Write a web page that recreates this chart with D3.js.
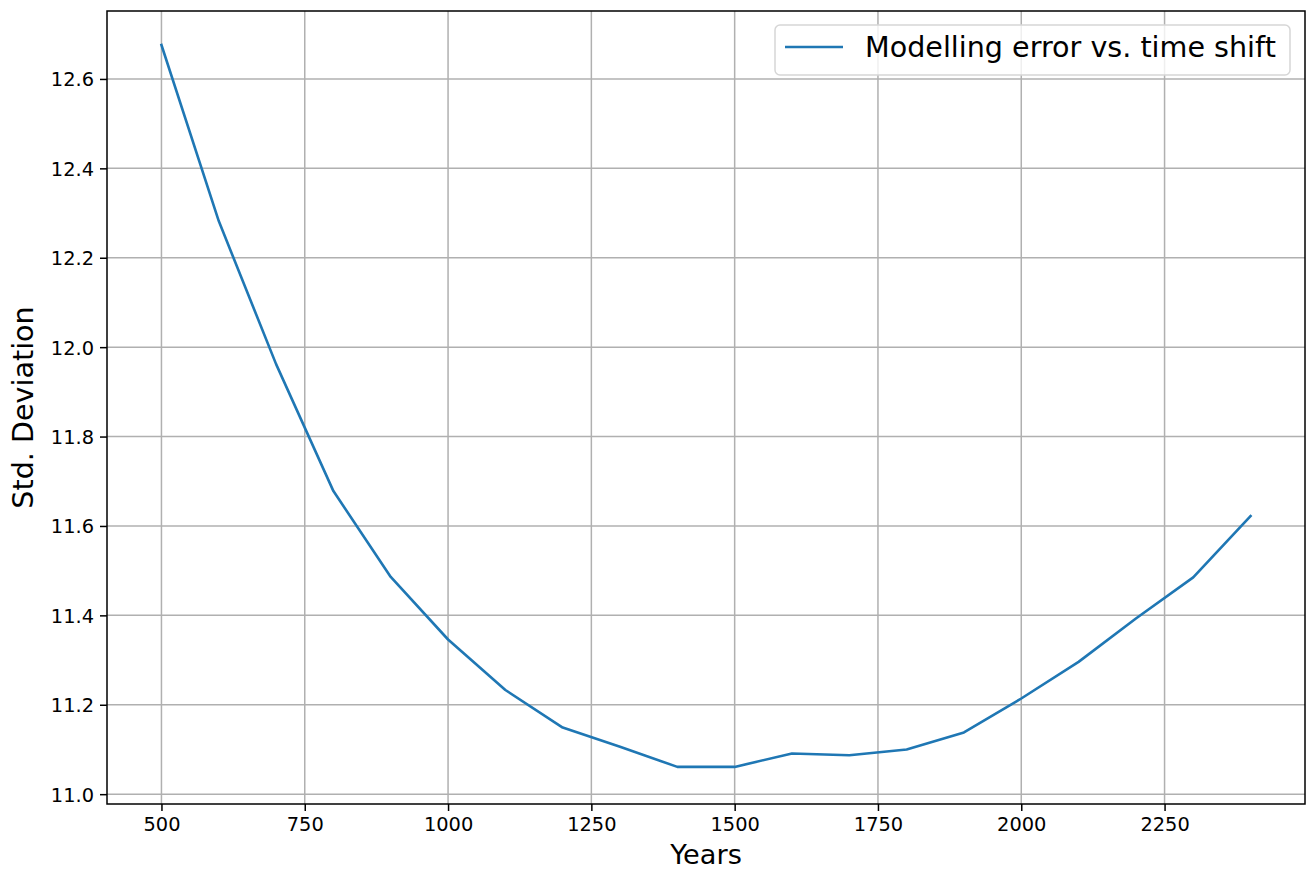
<!DOCTYPE html>
<html>
<head>
<meta charset="utf-8">
<script src="https://cdn.jsdelivr.net/npm/d3@7"></script>
<style>
  body { margin: 0; background: #fff; }
  text { font-family: "DejaVu Sans", sans-serif; fill: #000; }
</style>
</head>
<body>
<div class="visHolder"></div>
<script>
// values
const years = [500, 600, 700, 800, 900, 1000, 1100, 1200, 1300, 1400,
               1500, 1600, 1700, 1800, 1900, 2000, 2100, 2200, 2300, 2400];
const stdDev = [12.676, 12.282, 11.962, 11.678, 11.486, 11.346, 11.233, 11.149, 11.106, 11.061,
                11.061, 11.091, 11.087, 11.100, 11.138, 11.214, 11.296, 11.393, 11.485, 11.622];
const xTicks = [500, 750, 1000, 1250, 1500, 1750, 2000, 2250];
const yTicks = [11.0, 11.2, 11.4, 11.6, 11.8, 12.0, 12.2, 12.4, 12.6];
const seriesName = 'Modelling error vs. time shift';

const w = 1306, h = 870;
const plotLeft = 107, plotRight = 1305, plotTop = 11, plotBottom = 804;

const dataset = years.map((y, i) => ({year: y, value: stdDev[i]}));

const svg = d3.select('.visHolder')
  .append('svg')
  .attr('width', w)
  .attr('height', h);

// matplotlib style 5% margins around the data
const xScale = d3.scaleLinear()
  .domain([405, 2495])
  .range([plotLeft, plotRight]);
const yScale = d3.scaleLinear()
  .domain([10.978, 12.752])
  .range([plotBottom, plotTop]);

// grid
svg.append('g')
  .selectAll('line')
  .data(xTicks)
  .enter()
  .append('line')
  .attr('x1', d => xScale(d)).attr('x2', d => xScale(d))
  .attr('y1', plotTop).attr('y2', plotBottom)
  .attr('stroke', '#b0b0b0')
  .attr('stroke-width', 1.5);

svg.append('g')
  .selectAll('line')
  .data(yTicks)
  .enter()
  .append('line')
  .attr('x1', plotLeft).attr('x2', plotRight)
  .attr('y1', d => yScale(d)).attr('y2', d => yScale(d))
  .attr('stroke', '#b0b0b0')
  .attr('stroke-width', 1.5);

// axes
const xAxis = d3.axisBottom(xScale)
  .tickValues(xTicks)
  .tickSize(7)
  .tickPadding(6)
  .tickSizeOuter(0)
  .tickFormat(d3.format('d'));
const yAxis = d3.axisLeft(yScale)
  .tickValues(yTicks)
  .tickSize(7)
  .tickPadding(6)
  .tickSizeOuter(0)
  .tickFormat(d3.format('.1f'));

const gx = svg.append('g')
  .attr('transform', `translate(0, ${plotBottom})`)
  .call(xAxis);
const gy = svg.append('g')
  .attr('transform', `translate(${plotLeft}, 0)`)
  .call(yAxis);

[gx, gy].forEach(g => {
  g.select('.domain').remove();
  g.selectAll('.tick line').attr('stroke', '#000').attr('stroke-width', 1.5);
  g.selectAll('.tick text')
    .style('font-family', '"DejaVu Sans", sans-serif')
    .style('font-size', '19.4px')
    .attr('fill', '#000');
});
gy.selectAll('.tick text').attr('dy', '0.36em');

// line
const line = d3.line()
  .x(d => xScale(d.year))
  .y(d => yScale(d.value));

svg.append('path')
  .datum(dataset)
  .attr('d', line)
  .attr('fill', 'none')
  .attr('stroke', '#1f77b4')
  .attr('stroke-width', 2.6)
  .attr('stroke-linejoin', 'round')
  .attr('stroke-linecap', 'square');

// frame
svg.append('rect')
  .attr('x', plotLeft).attr('y', plotTop)
  .attr('width', plotRight - plotLeft).attr('height', plotBottom - plotTop)
  .attr('fill', 'none')
  .attr('stroke', '#000')
  .attr('stroke-width', 1.5);

// axis labels
svg.append('text')
  .attr('x', (plotLeft + plotRight) / 2)
  .attr('y', 864)
  .attr('text-anchor', 'middle')
  .style('font-size', '27.2px')
  .text('Years');

svg.append('text')
  .attr('transform', `translate(33, ${(plotTop + plotBottom) / 2}) rotate(-90)`)
  .attr('text-anchor', 'middle')
  .style('font-size', '28.6px')
  .text('Std. Deviation');

// legend
const legend = svg.append('g').attr('id', 'legend');
legend.append('rect')
  .attr('x', 775).attr('y', 25)
  .attr('width', 515).attr('height', 50)
  .attr('rx', 5)
  .attr('fill', '#fff')
  .attr('fill-opacity', 0.8)
  .attr('stroke', '#d6d6d6')
  .attr('stroke-width', 1.5);
legend.append('line')
  .attr('x1', 785).attr('x2', 843)
  .attr('y1', 47).attr('y2', 47)
  .attr('stroke', '#1f77b4')
  .attr('stroke-width', 2.6);
legend.append('text')
  .attr('x', 865)
  .attr('y', 57)
  .style('font-size', '28.6px')
  .text(seriesName);
</script>
</body>
</html>
